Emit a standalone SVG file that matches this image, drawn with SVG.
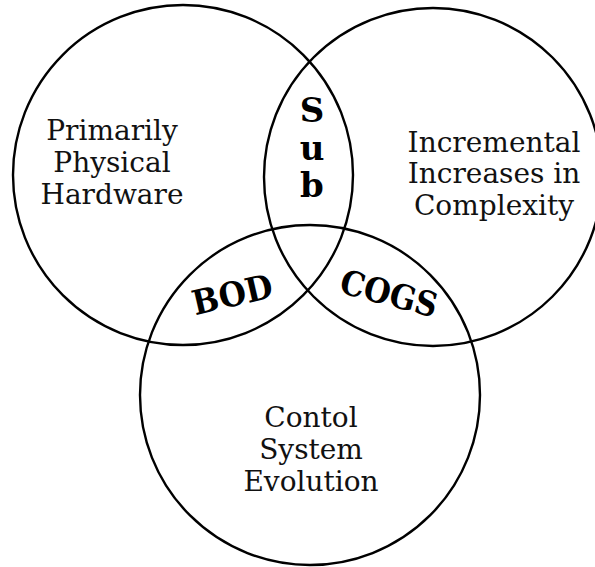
<svg xmlns="http://www.w3.org/2000/svg" width="595" height="567" viewBox="0 0 595 567">
  <style>
    .ring { fill: none; stroke: #000; stroke-width: 2.4; }
    .lbl { font-family: "DejaVu Serif", "Liberation Serif", serif; font-size: 28px; fill: #111; text-anchor: middle; }
    .ovl { font-family: "DejaVu Serif", "Liberation Serif", serif; font-size: 34px; font-weight: bold; fill: #000; text-anchor: middle; }
  </style>
  <rect width="595" height="567" fill="#fff"/>

  <g id="hardware">
    <circle class="ring" cx="183" cy="175" r="170"/>
    <text class="lbl" x="112" y="140">Primarily</text>
    <text class="lbl" x="112" y="172">Physical</text>
    <text class="lbl" x="112" y="204">Hardware</text>
  </g>

  <g id="complexity">
    <circle class="ring" cx="433" cy="177" r="169"/>
    <text class="lbl" x="494" y="152">Incremental</text>
    <text class="lbl" x="494" y="183">Increases in</text>
    <text class="lbl" x="494" y="215">Complexity</text>
  </g>

  <g id="control">
    <circle class="ring" cx="310" cy="395" r="170"/>
    <text class="lbl" x="311" y="427">Contol</text>
    <text class="lbl" x="311" y="459">System</text>
    <text class="lbl" x="311" y="491">Evolution</text>
  </g>

  <g id="sub">
    <text class="ovl" x="312" y="122">S</text>
    <text class="ovl" x="312" y="160">u</text>
    <text class="ovl" x="312" y="197">b</text>
  </g>

  <g id="bod">
    <text class="ovl" transform="translate(235 306) rotate(-13) scale(0.92 1)">BOD</text>
  </g>

  <g id="cogs">
    <text class="ovl" transform="translate(386 305) rotate(15) scale(0.9 1)">COGS</text>
  </g>
</svg>
